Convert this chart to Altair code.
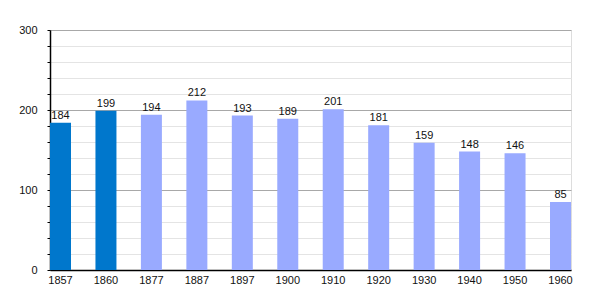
import altair as alt
import pandas as pd

years = ["1857", "1860", "1877", "1887", "1897", "1900", "1910", "1920", "1930", "1940", "1950", "1960"]
population = [184, 199, 194, 212, 193, 189, 201, 181, 159, 148, 146, 85]
group = ["dark", "dark"] + ["light"] * 10

df = pd.DataFrame({"year": years, "pop": population, "group": group})

FONT = "Liberation Sans"
xscale = alt.Scale(paddingInner=0.538, paddingOuter=0)
yscale = alt.Scale(domain=[0, 300], nice=False)
xaxis = alt.Axis(labelAngle=0, ticks=False, domainColor="#000", domainWidth=1.5,
                 labelFont=FONT, labelFontSize=11, labelColor="#111", labelPadding=4)
yaxis = alt.Axis(values=list(range(0, 301, 20)),
                 labelExpr="datum.value % 100 === 0 ? datum.label : ''",
                 gridColor={"condition": {"test": "datum.value % 100 === 0", "value": "#a8a8a8"}, "value": "#e4e4e4"},
                 tickColor="#000", tickSize=3, domainColor="#000", domainWidth=1.5,
                 labelFont=FONT, labelFontSize=11, labelColor="#111", labelPadding=10)

bars = alt.Chart(df).mark_bar().encode(
    x=alt.X("year:N", sort=years, title=None, scale=xscale, axis=xaxis),
    y=alt.Y("pop:Q", title=None, scale=yscale, axis=yaxis),
    color=alt.Color("group:N", scale=alt.Scale(domain=["dark", "light"], range=["#0077cc", "#99aaff"]), legend=None),
)

labels = alt.Chart(df).mark_text(dy=-7, font=FONT, fontSize=11, color="#111").encode(
    x=alt.X("year:N", sort=years, title=None, scale=xscale, axis=xaxis),
    y=alt.Y("pop:Q", title=None, scale=yscale, axis=yaxis),
    text=alt.Text("pop:Q"),
)

chart = alt.layer(bars, labels).properties(
    width=521, height=240,
    autosize=alt.AutoSizeParams(type="none"),
    padding={"left": 50, "top": 30, "right": 29, "bottom": 30},
).configure_view(stroke=None).configure(background="#ffffff")

chart.save("out.html", embed_options={"renderer": "svg", "actions": False})
